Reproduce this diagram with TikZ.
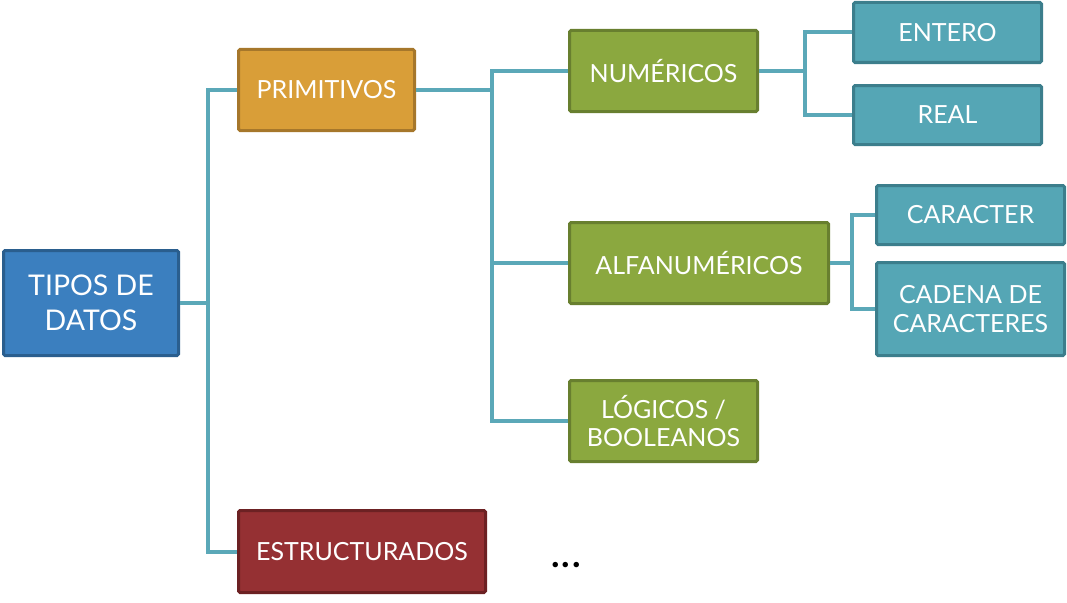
\documentclass[tikz,border=0pt]{standalone}
\usepackage{fontspec}
\setmainfont{Lato}
\definecolor{cblue}{HTML}{3B7FBF}\definecolor{cblueD}{HTML}{2A5E8E}
\definecolor{corange}{HTML}{D99E38}\definecolor{corangeD}{HTML}{A6772B}
\definecolor{cgreen}{HTML}{8BA83F}\definecolor{cgreenD}{HTML}{687F2F}
\definecolor{cred}{HTML}{953033}\definecolor{credD}{HTML}{6C2123}
\definecolor{cteal}{HTML}{55A6B5}\definecolor{ctealD}{HTML}{3C7E8C}
\definecolor{cline}{HTML}{5BA8B8}
\tikzset{
  box/.style={draw, line width=3pt, rounded corners=1.5pt, text=white, align=center,
    inner sep=0pt, font=\fontsize{25}{28.5}\selectfont},
  bluebox/.style={box, fill=cblue, draw=cblueD, font=\fontsize{28.5}{35}\selectfont},
  orangebox/.style={box, fill=corange, draw=corangeD},
  greenbox/.style={box, fill=cgreen, draw=cgreenD},
  redbox/.style={box, fill=cred, draw=credD},
  tealbox/.style={box, fill=cteal, draw=ctealD},
  conn/.style={draw=cline, line width=4pt}
}
\begin{document}
\begin{tikzpicture}[x=1pt,y=-1pt]
\useasboundingbox (0,0) rectangle (1067,602);
\coordinate (j1) at (208,303);
\coordinate (j2) at (492,90);
\coordinate (j3) at (805,71);
\coordinate (j4) at (852,263);
\node[bluebox, minimum width=175pt, minimum height=105pt] (tipos) at (91,303) {TIPOS DE\\DATOS};
\node[orangebox, minimum width=176pt, minimum height=81pt] (prim) at (326.5,90) {PRIMITIVOS};
\node[redbox, minimum width=247pt, minimum height=82pt] (estr) at (362,551.5) {ESTRUCTURADOS};
\node[greenbox, minimum width=188pt, minimum height=81pt] (num) at (663.5,71) {NUMÉRICOS};
\node[greenbox, minimum width=259pt, minimum height=81pt] (alfa) at (699,263) {ALFANUMÉRICOS};
\node[greenbox, minimum width=188pt, minimum height=81pt] (log) at (663.5,421) {LÓGICOS /\\BOOLEANOS};
\node[tealbox, minimum width=188pt, minimum height=60pt] (ent) at (947.5,32.5) {ENTERO};
\node[tealbox, minimum width=188pt, minimum height=59pt] (real) at (947.5,115) {REAL};
\node[tealbox, minimum width=188pt, minimum height=59pt] (car) at (970.5,215) {CARACTER};
\node[tealbox, minimum width=188pt, minimum height=93pt] (cad) at (970.5,309) {CADENA DE\\CARACTERES};
\node[font=\bfseries\fontsize{36}{40}\selectfont, text=black, anchor=base, inner sep=0pt] (dots) at (566,567) {.\hspace{2pt}.\hspace{2pt}.};
\path[conn] (tipos.east) -- (j1) |- (prim.west);
\path[conn] (j1) |- (estr.west);
\path[conn] (prim.east) -- (j2) |- (num.west);
\path[conn] (j2) |- (alfa.west);
\path[conn] (j2) |- (log.west);
\path[conn] (num.east) -- (j3) |- (ent.west);
\path[conn] (j3) |- (real.west);
\path[conn] (alfa.east) -- (j4) |- (car.west);
\path[conn] (j4) |- (cad.west);
\end{tikzpicture}
\end{document}
